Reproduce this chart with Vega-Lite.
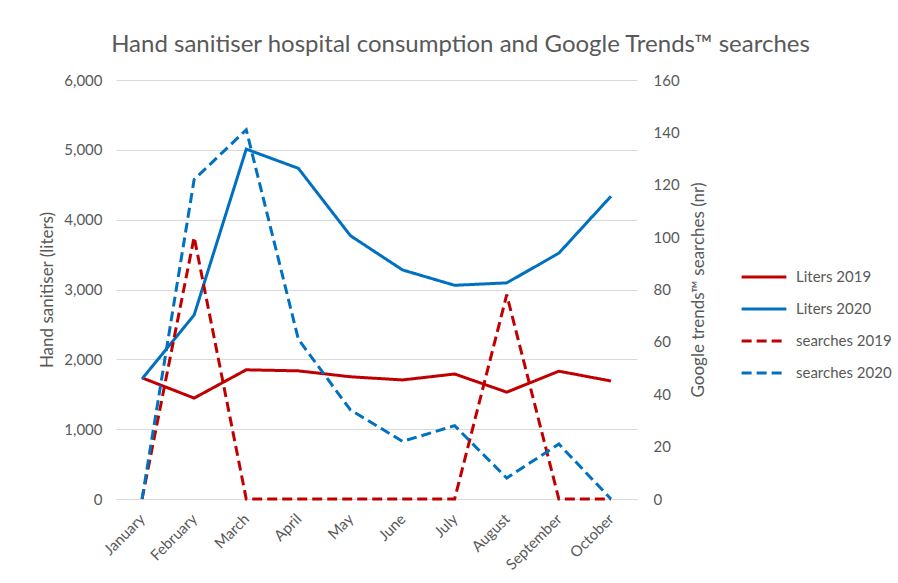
{
  "$schema": "https://vega.github.io/schema/vega-lite/v6.json",
  "width": 521,
  "height": 419,
  "autosize": {"type": "none"},
  "padding": {"left": 116, "top": 80, "right": 261, "bottom": 84},
  "background": "white",
  "config": {
    "font": "Lato",
    "view": {"stroke": null},
    "axis": {"labelColor": "#595959", "titleColor": "#595959", "labelFontSize": 15, "titleFontSize": 17, "titleFontWeight": "normal", "labelFont": "Lato", "titleFont": "Lato"}
  },
  "title": {"text": "Hand sanitiser hospital consumption and Google Trends™ searches", "fontSize": 24, "fontWeight": "normal", "color": "#595959", "font": "Lato", "anchor": "middle", "dx": 84, "offset": 16},
  "data": {"values": [
    {"month": "January", "series": "Liters 2019", "value": 1735},
    {"month": "February", "series": "Liters 2019", "value": 1445},
    {"month": "March", "series": "Liters 2019", "value": 1850},
    {"month": "April", "series": "Liters 2019", "value": 1835},
    {"month": "May", "series": "Liters 2019", "value": 1750},
    {"month": "June", "series": "Liters 2019", "value": 1705},
    {"month": "July", "series": "Liters 2019", "value": 1790},
    {"month": "August", "series": "Liters 2019", "value": 1530},
    {"month": "September", "series": "Liters 2019", "value": 1830},
    {"month": "October", "series": "Liters 2019", "value": 1690},
    {"month": "January", "series": "Liters 2020", "value": 1720},
    {"month": "February", "series": "Liters 2020", "value": 2635},
    {"month": "March", "series": "Liters 2020", "value": 5010},
    {"month": "April", "series": "Liters 2020", "value": 4735},
    {"month": "May", "series": "Liters 2020", "value": 3770},
    {"month": "June", "series": "Liters 2020", "value": 3280},
    {"month": "July", "series": "Liters 2020", "value": 3060},
    {"month": "August", "series": "Liters 2020", "value": 3095},
    {"month": "September", "series": "Liters 2020", "value": 3520},
    {"month": "October", "series": "Liters 2020", "value": 4335},
    {"month": "January", "series": "searches 2019", "value": 0},
    {"month": "February", "series": "searches 2019", "value": 100},
    {"month": "March", "series": "searches 2019", "value": 0},
    {"month": "April", "series": "searches 2019", "value": 0},
    {"month": "May", "series": "searches 2019", "value": 0},
    {"month": "June", "series": "searches 2019", "value": 0},
    {"month": "July", "series": "searches 2019", "value": 0},
    {"month": "August", "series": "searches 2019", "value": 78},
    {"month": "September", "series": "searches 2019", "value": 0},
    {"month": "October", "series": "searches 2019", "value": 0},
    {"month": "January", "series": "searches 2020", "value": 0},
    {"month": "February", "series": "searches 2020", "value": 122},
    {"month": "March", "series": "searches 2020", "value": 141},
    {"month": "April", "series": "searches 2020", "value": 61},
    {"month": "May", "series": "searches 2020", "value": 34},
    {"month": "June", "series": "searches 2020", "value": 22},
    {"month": "July", "series": "searches 2020", "value": 28},
    {"month": "August", "series": "searches 2020", "value": 8},
    {"month": "September", "series": "searches 2020", "value": 21},
    {"month": "October", "series": "searches 2020", "value": 0}
  ]},
  "encoding": {
    "x": {"field": "month", "type": "ordinal", "sort": null,
      "scale": {"type": "point", "padding": 0.5},
      "axis": {"title": null, "labelAngle": -45, "labelBaseline": "middle", "labelAlign": "right", "ticks": false, "domain": true, "domainColor": "#D9D9D9", "labelPadding": 17, "grid": false}},
    "color": {"field": "series", "type": "nominal",
      "scale": {"domain": ["Liters 2019", "Liters 2020", "searches 2019", "searches 2020"], "range": ["#C00000", "#0070C0", "#C00000", "#0070C0"]},
      "legend": {"title": null, "orient": "none", "legendX": 624, "legendY": 173, "symbolType": "stroke", "symbolSize": 2000, "symbolStrokeWidth": 3, "labelFontSize": 15, "labelColor": "#595959", "labelFont": "Lato", "rowPadding": 0, "labelOffset": 8}},
    "strokeDash": {"field": "series", "type": "nominal",
      "scale": {"domain": ["Liters 2019", "Liters 2020", "searches 2019", "searches 2020"], "range": [[1, 0], [1, 0], [10, 5], [10, 5]]},
      "legend": {"title": null, "orient": "none", "legendX": 624, "legendY": 173, "symbolType": "stroke", "symbolSize": 2000, "symbolStrokeWidth": 3, "labelFontSize": 15, "labelColor": "#595959", "labelFont": "Lato", "rowPadding": 0, "labelOffset": 8}}
  },
  "layer": [
    {
      "transform": [{"filter": "indexof(datum.series, 'Liters') === 0"}],
      "mark": {"type": "line", "strokeWidth": 3},
      "encoding": {
        "y": {"field": "value", "type": "quantitative",
          "scale": {"domain": [0, 6000]},
          "axis": {"title": "Hand sanitiser (liters)", "values": [0, 1000, 2000, 3000, 4000, 5000, 6000], "format": ",d", "ticks": false, "domain": false, "gridColor": "#D9D9D9", "labelPadding": 14, "titlePadding": 7}}
      }
    },
    {
      "transform": [{"filter": "indexof(datum.series, 'searches') === 0"}],
      "mark": {"type": "line", "strokeWidth": 3},
      "encoding": {
        "y": {"field": "value", "type": "quantitative",
          "scale": {"domain": [0, 160]},
          "axis": {"orient": "right", "title": "Google trends™ searches (nr)", "titleAngle": 270, "values": [0, 20, 40, 60, 80, 100, 120, 140, 160], "ticks": false, "domain": false, "grid": false, "labelPadding": 16, "titlePadding": 28}}
      }
    }
  ],
  "resolve": {"scale": {"y": "independent"}}
}
